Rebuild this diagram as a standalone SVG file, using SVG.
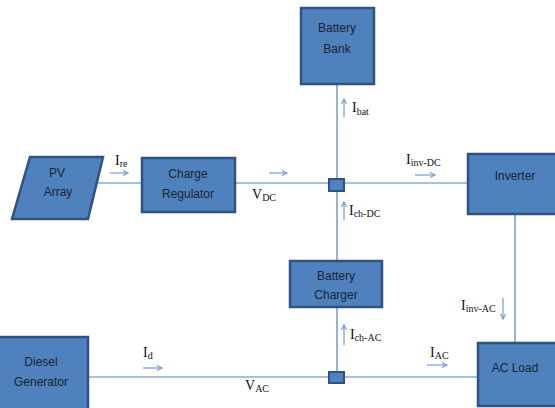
<svg xmlns="http://www.w3.org/2000/svg" width="555" height="408" viewBox="0 0 555 408">
<style>
.box{fill:#4f81bd;stroke:#2f5382;stroke-width:2.5}
.jn{fill:#4f81bd;stroke:#2f5382;stroke-width:2}
.t{font-family:"Liberation Sans",Arial,sans-serif;font-size:12px;fill:#1a2433;text-anchor:middle}
.w{stroke:#4f81bd;stroke-width:1.2;fill:none}
.a{stroke:#6f9bd8;stroke-width:1.2;fill:none;marker-end:url(#ah)}
.l{font-family:"Liberation Serif","Times New Roman",serif;font-size:14px;fill:#111}
.s{font-size:10px}
</style>
<defs>
<marker id="ah" markerWidth="8" markerHeight="8" refX="6" refY="4" orient="auto" markerUnits="userSpaceOnUse">
<path d="M1,1.5 L6,4 L1,6.5" fill="none" stroke="#6f9bd8" stroke-width="1.1"/>
</marker>
</defs>
<g id="connectors">
<line class="w" x1="98" y1="183" x2="142" y2="183"/>
<line class="w" x1="235" y1="183" x2="468" y2="183"/>
<line class="w" x1="337" y1="84" x2="337" y2="261"/>
<line class="w" x1="337" y1="307" x2="337" y2="377"/>
<line class="w" x1="88" y1="377" x2="478" y2="377"/>
<line class="w" x1="515" y1="214" x2="515" y2="343"/>
<line class="a" x1="110" y1="173" x2="128" y2="173"/>
<line class="a" x1="269" y1="173" x2="287" y2="173"/>
<line class="a" x1="415" y1="175" x2="435" y2="175"/>
<line class="a" x1="344" y1="117" x2="344" y2="99"/>
<line class="a" x1="344" y1="220" x2="344" y2="202"/>
<line class="a" x1="344" y1="345" x2="344" y2="325"/>
<line class="a" x1="503" y1="298" x2="503" y2="319"/>
<line class="a" x1="143" y1="368" x2="162" y2="368"/>
<line class="a" x1="427" y1="365" x2="447" y2="365"/>
<text class="l" x="115" y="165">I<tspan class="s" dy="2">re</tspan></text>
<text class="l" x="252" y="199">V<tspan class="s" dy="2">DC</tspan></text>
<text class="l" x="352" y="112">I<tspan class="s" dy="3">bat</tspan></text>
<text class="l" x="406" y="164">I<tspan class="s" dy="2">inv-DC</tspan></text>
<text class="l" x="349" y="215">I<tspan class="s" dy="2">ch-DC</tspan></text>
<text class="l" x="350" y="339">I<tspan class="s" dy="2">ch-AC</tspan></text>
<text class="l" x="461" y="310">I<tspan class="s" dy="2">inv-AC</tspan></text>
<text class="l" x="430" y="357">I<tspan class="s" dy="2">AC</tspan></text>
<text class="l" x="143" y="357">I<tspan class="s" dy="2">d</tspan></text>
<text class="l" x="245" y="390">V<tspan class="s" dy="2">AC</tspan></text>
</g>
<g id="pv-array">
<polygon class="box" points="30,157 103,157 88,219 12,219"/>
<text class="t" x="57" y="177">PV</text>
<text class="t" x="58" y="196">Array</text>
</g>
<g id="charge-regulator">
<rect class="box" x="142" y="158" width="93" height="54"/>
<text class="t" x="188" y="178">Charge</text>
<text class="t" x="188" y="198">Regulator</text>
</g>
<g id="battery-bank">
<rect class="box" x="301" y="8" width="73" height="76"/>
<text class="t" x="337" y="32">Battery</text>
<text class="t" x="337" y="53">Bank</text>
</g>
<g id="dc-junction">
<rect class="jn" x="329" y="179" width="15" height="12"/>
</g>
<g id="inverter">
<rect class="box" x="468" y="154" width="90" height="60"/>
<text class="t" x="515" y="180">Inverter</text>
</g>
<g id="battery-charger">
<rect class="box" x="290" y="261" width="92" height="46"/>
<text class="t" x="336" y="280">Battery</text>
<text class="t" x="336" y="299">Charger</text>
</g>
<g id="ac-junction">
<rect class="jn" x="329" y="372" width="15" height="11"/>
</g>
<g id="diesel-generator">
<rect class="box" x="-4" y="337" width="92" height="75"/>
<text class="t" x="41" y="366">Diesel</text>
<text class="t" x="41" y="386">Generator</text>
</g>
<g id="ac-load">
<rect class="box" x="478" y="343" width="80" height="63"/>
<text class="t" x="515" y="372">AC Load</text>
</g>
</svg>
